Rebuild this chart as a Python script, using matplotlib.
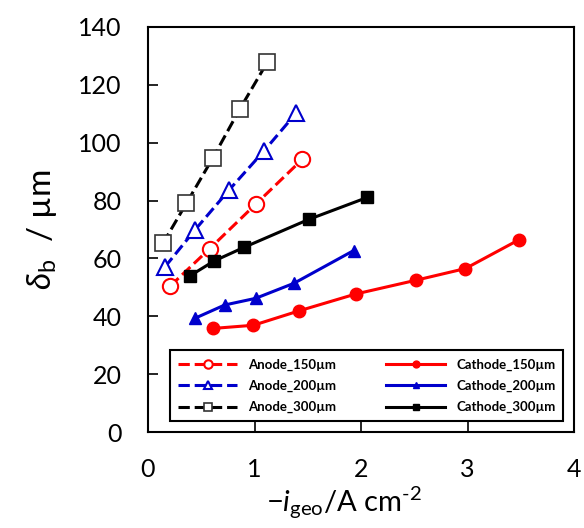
import matplotlib.pyplot as plt

# anode (open markers, dashed lines)
anode150_x = [0.21, 0.58, 1.01, 1.45]
anode150_y = [50.5, 63.4, 78.7, 94.3]
anode200_x = [0.16, 0.44, 0.76, 1.09, 1.39]
anode200_y = [57.1, 69.8, 83.6, 97.2, 110.2]
anode300_x = [0.14, 0.36, 0.61, 0.86, 1.12]
anode300_y = [65.2, 79.0, 94.8, 111.5, 127.8]

# cathode (filled markers, solid lines)
cathode150_x = [0.61, 0.99, 1.42, 1.95, 2.52, 2.98, 3.48]
cathode150_y = [35.8, 36.9, 41.9, 47.7, 52.5, 56.5, 66.4]
cathode200_x = [0.44, 0.72, 1.01, 1.37, 1.93]
cathode200_y = [39.3, 43.9, 46.2, 51.4, 62.7]
cathode300_x = [0.39, 0.62, 0.90, 1.51, 2.06]
cathode300_y = [53.9, 59.1, 63.8, 73.5, 81.1]

plt.rcParams['font.family'] = ['Lato', 'DejaVu Sans']
plt.rcParams['mathtext.fontset'] = 'custom'
plt.rcParams['mathtext.rm'] = 'Lato'
plt.rcParams['mathtext.it'] = 'Lato:italic'

fig = plt.figure(figsize=(5.84, 5.28), dpi=100)
ax = fig.add_axes([0.2534, 0.1818, 0.7296, 0.7671])

red = '#ff0000'
blue = '#0000cc'
blk = '#000000'

ax.plot(anode150_x, anode150_y, '--', color=red, lw=2.2, marker='o', ms=11,
        mfc='white', mec=red, mew=1.5, label='Anode_150µm')
ax.plot(anode200_x, anode200_y, '--', color=blue, lw=2.2, marker='^', ms=11,
        mfc='white', mec=blue, mew=1.5, label='Anode_200µm')
ax.plot(anode300_x, anode300_y, '--', color=blk, lw=2.2, marker='s', ms=11,
        mfc='white', mec='#333333', mew=1.2, label='Anode_300µm')
ax.plot(cathode150_x, cathode150_y, '-', color=red, lw=2.2, marker='o', ms=9,
        label='Cathode_150µm')
ax.plot(cathode200_x, cathode200_y, '-', color=blue, lw=2.2, marker='^', ms=9,
        label='Cathode_200µm')
ax.plot(cathode300_x, cathode300_y, '-', color=blk, lw=2.2, marker='s', ms=9,
        label='Cathode_300µm')

ax.set_xlim(0, 4)
ax.set_ylim(0, 140)
ax.set_xticks([0, 1, 2, 3, 4])
ax.set_yticks(range(0, 141, 20))
ax.tick_params(direction='in', length=7, width=1.2, labelsize=18, top=False, right=False)
ax.tick_params(axis='x', pad=19)
ax.tick_params(axis='y', pad=19)
for s in ax.spines.values():
    s.set_linewidth(1.5)

ax.set_xlabel(r'$-i_{\rm geo}$/A cm$^{\text{-2}}$', fontsize=21)
ax.xaxis.set_label_coords(0.46, -0.13)
ax.set_ylabel(r'$\delta_{\rm b}$  / µm', fontsize=24, labelpad=14)

leg = ax.legend(ncol=2, loc='lower right', bbox_to_anchor=(0.99, 0.01),
                prop={'weight': 'bold', 'size': 9.5},
                fancybox=False, edgecolor='black', markerscale=0.55,
                handlelength=4.5, columnspacing=3.8, borderpad=0.6,
                labelspacing=0.7, framealpha=1)
leg.get_frame().set_linewidth(1.5)

fig.savefig('out.png', dpi=100)
